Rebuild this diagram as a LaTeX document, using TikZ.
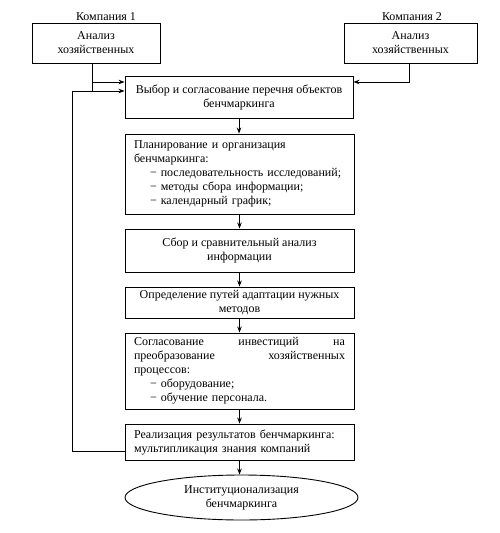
\documentclass[tikz,border=0pt]{standalone}
\usepackage{fontspec}
\setmainfont{Liberation Serif}
\usetikzlibrary{arrows.meta,shapes.geometric}
\begin{document}
\begin{tikzpicture}[x=1pt,y=-1pt,
  every node/.style={font=\fontsize{12}{14}\selectfont},
  blk/.style={draw, line width=0.9pt, inner sep=0pt, align=center},
  lblk/.style={draw, line width=0.9pt, inner xsep=9pt, inner ysep=0pt, text width=211pt, align=left},
  lab/.style={inner sep=0pt},
  arr/.style={line width=0.9pt, -{Stealth[length=6pt,width=4.5pt]}},
  ln/.style={line width=0.9pt}]
\useasboundingbox (0,0) rectangle (500,533);
\node[lab] (L1) at (106,17) {Компания 1};
\node[lab] (L2) at (412,17) {Компания 2};
\node[blk, minimum width=128pt, minimum height=40pt] (A1) at (96,43) {Анализ\\хозяйственных};
\node[blk, minimum width=133pt, minimum height=40pt] (A2) at (410.5,43) {Анализ\\хозяйственных};
\node[blk, minimum width=228pt, minimum height=42pt] (B) at (239,97) {Выбор и согласование перечня объектов\\бенчмаркинга};
\node[lblk, minimum height=80pt] (C) at (239.5,174) {Планирование и организация\\бенчмаркинга:\\
  \hspace*{16pt}− последовательность исследований;\\
  \hspace*{16pt}− методы сбора информации;\\
  \hspace*{16pt}− календарный график;};
\node[blk, minimum width=229pt, minimum height=43pt] (D) at (239.5,250.5) {Сбор и сравнительный анализ\\информации};
\node[blk, minimum width=229pt, minimum height=31pt] (E) at (239.5,302.5) {Определение путей адаптации нужных\\методов};
\node[lblk, minimum height=76pt] (F) at (239.5,371) {\leavevmode\hbox to 211pt{Согласование\hfill инвестиций\hfill на}\\
  \leavevmode\hbox to 211pt{преобразование\hfill хозяйственных}\\
  процессов:\\
  \hspace*{16pt}− оборудование;\\
  \hspace*{16pt}− обучение персонала.};
\node[lblk, minimum height=36pt] (G) at (239.5,442) {Реализация результатов бенчмаркинга:\\мультипликация знания компаний};
\node[draw, ellipse, line width=0.9pt, inner sep=0pt, minimum width=233pt, minimum height=45pt, align=center] (H) at (241.5,497.5) {Институционализация\\бенчмаркинга};
% connectors
\coordinate (j1) at (92,82);
\coordinate (j2) at (92,91);
\coordinate (fc) at (72,91);
\coordinate (fb) at (72,451);
\coordinate (j3) at (409,82);
\draw[ln] (A1.south -| j1) -- (j2);
\draw[arr] (j1) -- (j1 -| B.west);
\draw[arr] (G.west |- fb) -- (fb) -- (fc) -- (fc -| B.west);
\draw[arr] (A2.south -| j3) -- (j3) -- (j3 -| B.east);
\draw[arr] (B.south) -- (B.south |- C.north);
\draw[arr] (C.south) -- (D.north);
\draw[arr] (D.south) -- (E.north);
\draw[arr] (E.south) -- (F.north);
\draw[arr] (F.south) -- (G.north);
\draw[arr] (G.south) -- (G.south |- H.north);
\end{tikzpicture}
\end{document}
